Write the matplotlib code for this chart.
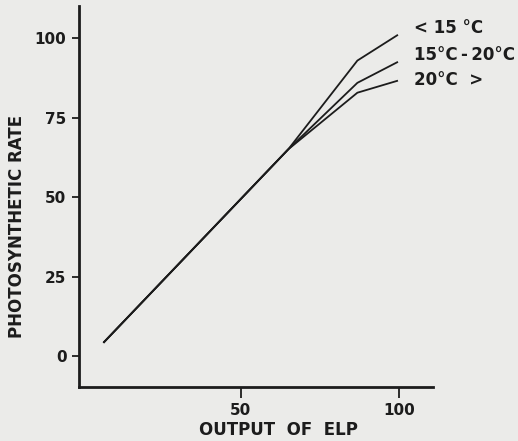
import matplotlib
matplotlib.use("Agg")
import matplotlib.pyplot as plt

# values
elp_output = [6.7, 65, 86.8, 99.6]
rate_below_15 = [4.2, 65, 92.9, 101]
rate_15_to_20 = [4.2, 65, 85.9, 92.5]
rate_above_20 = [4.2, 65, 82.8, 86.6]
series_labels = ["< 15 \u00b0C", "15\u00b0C\u2009-\u200920\u00b0C", "20\u00b0C  >"]
label_y = [103, 94.6, 86.8]
x_ticks = [50, 100]
y_ticks = [0, 25, 50, 75, 100]

paper = "#ebebe9"
ink = "#1c1c1c"

plt.rcParams["font.family"] = ["DejaVu Sans"]

fig = plt.figure(figsize=(5.18, 4.41), dpi=100, facecolor=paper)
ax = fig.add_axes([0.1525, 0.1218, 0.6825, 0.8642], facecolor=paper)

for rates in (rate_below_15, rate_15_to_20, rate_above_20):
    ax.plot(elp_output, rates, color=ink, lw=1.3, solid_capstyle="butt")

for text, y in zip(series_labels, label_y):
    ax.text(104.5, y, text, ha="left", va="center", fontsize=12,
            fontweight="bold", color=ink)

ax.set_xlim(-1, 110.5)
ax.set_ylim(-9.8, 110)
ax.set_xticks(x_ticks)
ax.set_yticks(y_ticks)

for side in ("top", "right"):
    ax.spines[side].set_visible(False)
for side in ("left", "bottom"):
    ax.spines[side].set_linewidth(2)
    ax.spines[side].set_color(ink)

ax.tick_params(axis="y", length=5, width=1.3, pad=4, colors=ink, labelsize=11)
ax.tick_params(axis="x", length=8, width=1.3, pad=3, colors=ink, labelsize=11)
for lab in ax.get_xticklabels() + ax.get_yticklabels():
    lab.set_fontweight("bold")

fig.text(0.032, 0.486, "PHOTOSYNTHETIC RATE", rotation=90, ha="center",
         va="center", fontsize=12, fontweight="bold", color=ink)
fig.text(0.537, 0.025, "OUTPUT  OF  ELP", ha="center", va="center",
         fontsize=12, fontweight="bold", color=ink)

fig.savefig("out.png", dpi=100, facecolor=paper)
